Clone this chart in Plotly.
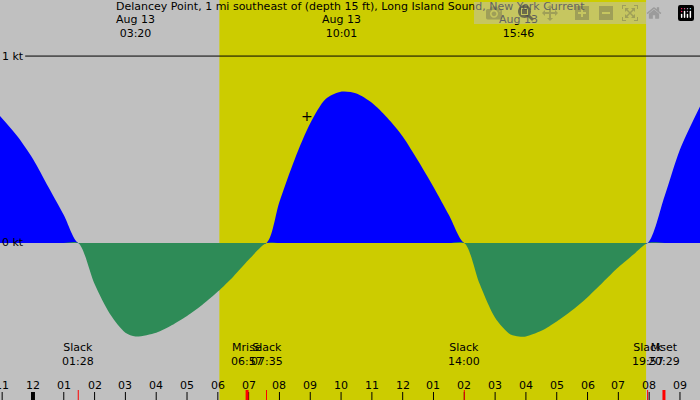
import numpy as np
import plotly.graph_objects as go

# hours since midnight Aug 13, current in knots (flood +, ebb -)
hours = [-1.07, -0.5, 0, 0.5, 1.0, 1.47, 2.0, 2.5, 3.0, 3.33, 4.0, 4.5, 5.0, 5.5, 6.0, 6.5, 7.0, 7.58,
         8.0, 8.5, 9.0, 9.5, 10.02, 10.5, 11.0, 11.5, 12.0, 12.5, 13.0, 13.5, 14.0,
         14.5, 15.0, 15.5, 15.77, 16.0, 16.5, 17.0, 17.5, 18.0, 18.5, 19.0, 19.5, 19.95,
         20.5, 21.0, 21.65]
knots = [0.68, 0.57, 0.45, 0.30, 0.15, 0.0, -0.22, -0.38, -0.48, -0.50, -0.48, -0.44, -0.39, -0.33, -0.26, -0.18, -0.09, 0.0,
         0.22, 0.45, 0.64, 0.77, 0.81, 0.80, 0.75, 0.67, 0.57, 0.44, 0.30, 0.15, 0.0,
         -0.22, -0.40, -0.49, -0.50, -0.50, -0.47, -0.42, -0.36, -0.29, -0.21, -0.13, -0.06, 0.0,
         0.25, 0.50, 0.73]

tick_hours = list(range(-1, 22))
tick_labels = ["11", "12", "01", "02", "03", "04", "05", "06", "07", "08", "09", "10", "11", "12",
               "01", "02", "03", "04", "05", "06", "07", "08", "09"]

peaks = [(3.33, "Aug 13<br>03:20"), (10.02, "Aug 13<br>10:01"), (15.77, "Aug 13<br>15:46")]
events = [(1.47, "Slack<br>01:28"), (6.95, "Mrise<br>06:57"), (7.58, "Slack<br>07:35"),
          (14.0, "Slack<br>14:00"), (19.95, "Slack<br>19:57"), (20.48, "Mset<br>20:29")]
sunrise, sunset = 6.05, 19.9

k = np.array(knots)
fig = go.Figure()
fig.add_trace(go.Scatter(x=hours, y=np.maximum(k, 0), fill="tozeroy", mode="lines",
                         line=dict(width=0, shape="spline", smoothing=0.8), fillcolor="#0000ff"))
fig.add_trace(go.Scatter(x=hours, y=np.minimum(k, 0), fill="tozeroy", mode="lines",
                         line=dict(width=0, shape="spline", smoothing=0.8), fillcolor="#2e8b57"))

shapes = [dict(type="rect", xref="x", yref="paper", x0=sunrise, x1=sunset, y0=0, y1=1,
               fillcolor="#cccc00", line_width=0, layer="below"),
          dict(type="line", xref="paper", yref="y", x0=0.036, x1=1, y0=1, y1=1,
               line=dict(color="black", width=1))]
for h in tick_hours:
    shapes.append(dict(type="line", xref="x", yref="paper", x0=h, x1=h, y0=0, y1=0.02,
                       line=dict(color="black", width=4 if h == 0 else 1)))
for h, t in events:
    red_w = 3 if t.startswith("M") else 1
    shapes.append(dict(type="line", xref="x", yref="paper", x0=h, x1=h, y0=0, y1=0.025,
                       line=dict(color="red", width=red_w)))

ann = [dict(x=0.5, y=1.005, xref="paper", yref="paper", yanchor="top", showarrow=False,
            text="Delancey Point, 1 mi southeast of (depth 15 ft), Long Island Sound, New York Current")]
for h, t in peaks:
    ann.append(dict(x=h, y=0.972, xref="x", yref="paper", yanchor="top", showarrow=False, text=t))
for h, t in events:
    ann.append(dict(x=h, y=0.115, xref="x", yref="paper", yanchor="middle", showarrow=False, text=t))
for h, t in zip(tick_hours, tick_labels):
    ann.append(dict(x=h, y=0.037, xref="x", yref="paper", yanchor="middle", showarrow=False, text=t))
ann.append(dict(x=0, y=1, xref="paper", yref="y", xanchor="left", showarrow=False, text="1 kt"))
ann.append(dict(x=0, y=0, xref="paper", yref="y", xanchor="left", showarrow=False, text="0 kt"))
ann.append(dict(x=8.9, y=0.68, xref="x", yref="y", showarrow=False, text="+", font=dict(size=14)))

fig.update_layout(width=700, height=400, margin=dict(l=0, r=0, t=0, b=0),
                  paper_bgcolor="#c0c0c0", plot_bgcolor="#c0c0c0", showlegend=False,
                  shapes=shapes, annotations=ann,
                  font=dict(family="DejaVu Sans", size=11, color="black"),
                  xaxis=dict(range=[-1.07, 21.65], visible=False),
                  yaxis=dict(range=[-0.84, 1.30], visible=False))
fig.write_html("out.html", post_script="document.body.style.margin='0';")
